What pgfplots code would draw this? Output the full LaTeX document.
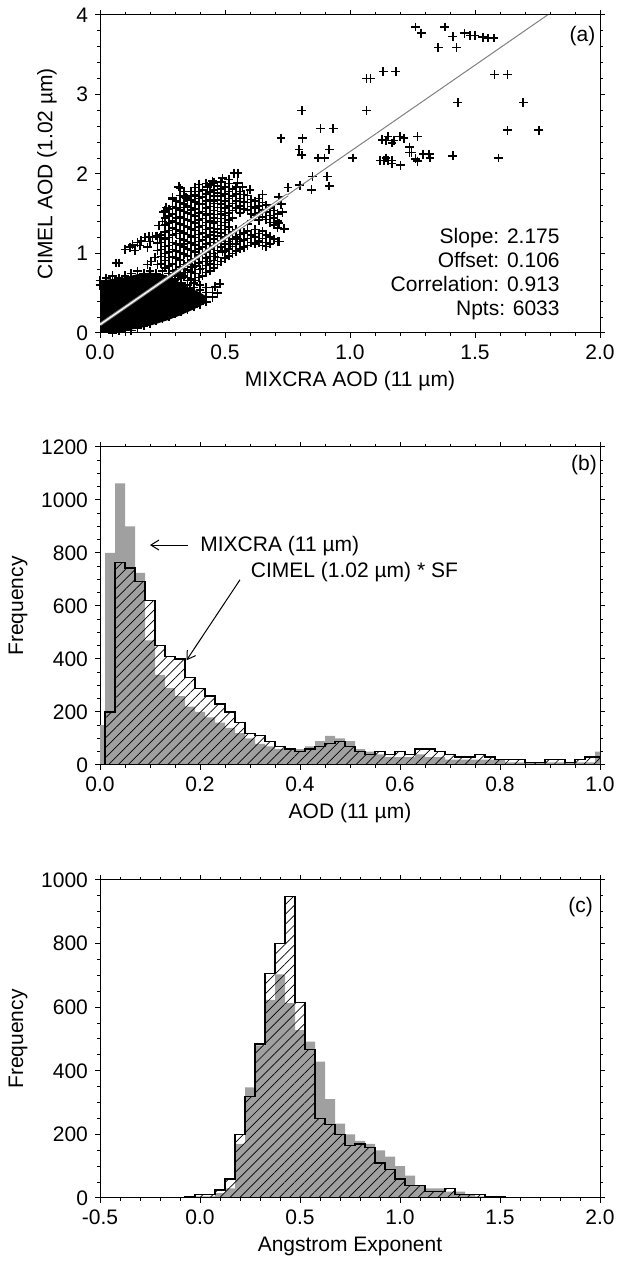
\documentclass[border=0pt]{standalone}
\usepackage{pgfplots}
\pgfplotsset{compat=1.18}
\usepackage{pgfplotstable}
\usetikzlibrary{patterns.meta,arrows.meta}
\usepackage{fontspec}
\setmainfont{Liberation Sans}
\definecolor{hgray}{RGB}{160,160,160}
\newcommand{\fs}{\fontsize{10.5}{12}\selectfont}

% panel (b): left bin edge, MIXCRA (grey), CIMEL*SF (hatched)
\pgfplotstableread{
x g c
-0.01 150 0
0.01 800 200
0.03 1063 764
0.05 900 743
0.07 725 692
0.09 470 621
0.11 340 450
0.13 290 410
0.15 260 400
0.17 220 330
0.19 200 290
0.21 180 260
0.23 160 230
0.25 140 200
0.27 120 160
0.29 100 120
0.31 80 110
0.33 70 90
0.35 60 70
0.37 60 60
0.39 60 50
0.41 70 60
0.43 90 70
0.45 110 80
0.47 100 90
0.49 90 70
0.51 60 50
0.53 50 40
0.55 40 50
0.57 30 40
0.59 30 50
0.61 30 40
0.63 40 60
0.65 30 60
0.67 30 50
0.69 20 40
0.71 20 30
0.73 20 30
0.75 20 40
0.77 20 30
0.79 20 20
0.81 10 20
0.83 10 20
0.85 10 10
0.87 10 10
0.89 10 20
0.91 10 20
0.93 10 10
0.95 10 20
0.97 10 30
0.99 50 30
1.01 50 30
}\histb

% panel (c): left bin edge, MIXCRA (grey), CIMEL (hatched)
\pgfplotstableread{
x g c
-0.075 0 5
-0.025 5 10
0.025 5 10
0.075 15 25
0.125 30 60
0.175 170 200
0.225 348 318
0.275 480 484
0.325 623 706
0.375 703 800
0.425 613 947
0.475 528 614
0.525 492 467
0.575 429 251
0.625 311 230
0.675 234 200
0.725 200 165
0.775 180 170
0.825 170 160
0.875 150 110
0.925 130 90
0.975 100 60
1.025 70 40
1.075 40 40
1.125 30 20
1.175 30 20
1.225 20 30
1.275 20 10
1.325 10 10
1.375 5 10
1.425 5 5
1.475 0 5
1.525 0 5
}\histc

\pgfplotsset{
  myaxis/.style={
    scale only axis, width=250pt, height=159pt,
    anchor=south west,
    tick align=outside,
    major tick length=2.5pt, minor tick length=1.5pt,
    axis line style={line width=0.5pt},
    every tick/.style={black, line width=0.5pt},
    tick label style={font=\fs},
    label style={font=\fs},
    /pgf/number format/assume math mode=true,
    /pgf/number format/1000 sep={},
    scaled ticks=false,
    clip mode=individual,
  },
  hatch/.style={const plot mark left, draw=black, line width=0.6pt,
    pattern={Lines[angle=45,distance=3.5pt,line width=0.35pt]}, pattern color=black},
  greybar/.style={const plot mark left, draw=none, fill=hgray},
}

\begin{document}
\begin{tikzpicture}
\useasboundingbox (0,0) rectangle (309pt,634.5pt);

% ---------------- (a) ----------------
\begin{axis}[myaxis, at={(50pt,468pt)},
  xmin=0, xmax=2, ymin=0, ymax=4,
  xtick={0,0.5,1,1.5,2}, minor x tick num=4,
  ytick={0,1,2,3,4}, minor y tick num=4,
  xticklabel style={/pgf/number format/.cd,fixed,fixed zerofill,precision=1},
  xlabel={MIXCRA AOD (11 µm)}, ylabel={CIMEL AOD (1.02 µm)},
  xlabel style={at={(axis description cs:0.5,-0.151)},anchor=center},
  ylabel style={at={(axis description cs:-0.106,0.5)},anchor=center},
]
\addplot[fill=black, draw=none] coordinates {
(0,0) (0.08,0) (0.12,0.04) (0.17,0.07) (0.22,0.11) (0.27,0.16) (0.32,0.22) (0.37,0.29)
(0.42,0.37) (0.43,0.45) (0.40,0.51) (0.35,0.58) (0.30,0.67) (0.25,0.74) (0.20,0.76)
(0.15,0.74) (0.10,0.70) (0.05,0.68) (0,0.66)} -- cycle;
\addplot[only marks, mark=+, mark size=2.2pt, mark options={line width=0.8pt}] coordinates {
(0,0.66) (0,0.60) (0.025,0.69) (0.025,0.63) (0.05,0.72) (0.05,0.66) (0.075,0.69) (0.075,0.63)
(0.1,0.72) (0.1,0.66) (0.125,0.75) (0.125,0.69) (0.15,0.78) (0.15,0.72) (0.175,0.75) (0.175,0.69)
(0.2,0.78) (0.2,0.72) (0.225,0.75) (0.225,0.69) (0.25,0.78) (0.25,0.72) (0.275,0.75) (0.275,0.69)
(0.3,0.72) (0.3,0.66) (0.325,0.69) (0.325,0.63) (0.35,0.66) (0.35,0.60) (0.375,0.63) (0.375,0.57)
(0.4,0.60) (0.4,0.54) (0.425,0.57) (0.425,0.51) (0.45,0.51) (0.45,0.45)
(0.05,0.0) (0.075,0.03) (0.1,0.06) (0.125,0.03) (0.125,0.09) (0.15,0.06) (0.15,0.12) (0.175,0.09)
(0.175,0.15) (0.2,0.12) (0.2,0.18) (0.225,0.15) (0.225,0.21) (0.25,0.18) (0.25,0.24) (0.275,0.21)
(0.275,0.27) (0.3,0.24) (0.3,0.30) (0.325,0.27) (0.325,0.33) (0.35,0.30) (0.35,0.36) (0.375,0.33)
(0.375,0.39) (0.4,0.36) (0.4,0.42) (0.425,0.39) (0.425,0.45)
(0.23,0.86) (0.23,1.04) (0.23,1.13) (0.23,1.22)
(0.26,0.82) (0.26,0.91) (0.26,1.00) (0.26,1.09) (0.26,1.18) (0.26,1.27) (0.26,1.36) (0.26,1.45) (0.26,1.54)
(0.29,0.78) (0.29,0.87) (0.29,0.96) (0.29,1.05) (0.29,1.14) (0.29,1.23) (0.29,1.32) (0.29,1.41) (0.29,1.50) (0.29,1.59) (0.29,1.68)
(0.32,0.74) (0.32,0.83) (0.32,0.92) (0.32,1.01) (0.32,1.10) (0.32,1.19) (0.32,1.28) (0.32,1.37) (0.32,1.46) (0.32,1.55) (0.32,1.64) (0.32,1.73) (0.32,1.82)
(0.35,0.70) (0.35,0.79) (0.35,0.88) (0.35,0.97) (0.35,1.06) (0.35,1.15) (0.35,1.24) (0.35,1.33) (0.35,1.42) (0.35,1.51) (0.35,1.60) (0.35,1.69)
(0.38,0.66) (0.38,0.75) (0.38,0.84) (0.38,0.93) (0.38,1.02) (0.38,1.11) (0.38,1.20) (0.38,1.29) (0.38,1.38) (0.38,1.47) (0.38,1.56) (0.38,1.65) (0.38,1.74) (0.38,1.83)
(0.41,0.72) (0.41,0.81) (0.41,0.90) (0.41,0.99) (0.41,1.08) (0.41,1.17) (0.41,1.26) (0.41,1.35) (0.41,1.44) (0.41,1.53) (0.41,1.62) (0.41,1.71) (0.41,1.80)
(0.44,0.78) (0.44,0.87) (0.44,0.96) (0.44,1.05) (0.44,1.14) (0.44,1.23) (0.44,1.32) (0.44,1.41) (0.44,1.50) (0.44,1.59) (0.44,1.68) (0.44,1.77) (0.44,1.86)
(0.47,0.86) (0.47,0.95) (0.47,1.04) (0.47,1.13) (0.47,1.22) (0.47,1.31) (0.47,1.40) (0.47,1.49) (0.47,1.58) (0.47,1.67) (0.47,1.76) (0.47,1.85)
(0.50,0.94) (0.50,1.03) (0.50,1.12) (0.50,1.21) (0.50,1.30) (0.50,1.39) (0.50,1.48) (0.50,1.57) (0.50,1.66) (0.50,1.75) (0.50,1.84)
(0.53,1.00) (0.53,1.09) (0.53,1.18) (0.53,1.27) (0.53,1.45) (0.53,1.54) (0.53,1.63) (0.53,1.72) (0.53,1.81)
(0.56,1.06) (0.56,1.15) (0.56,1.24) (0.56,1.51) (0.56,1.60) (0.56,1.69) (0.56,1.78)
(0.59,1.10) (0.59,1.19) (0.59,1.28) (0.59,1.37) (0.59,1.55) (0.59,1.64) (0.59,1.73)
(0.62,1.12) (0.62,1.21) (0.62,1.30) (0.62,1.48) (0.62,1.57) (0.62,1.66)
(0.65,1.10) (0.65,1.19) (0.65,1.28) (0.65,1.46) (0.65,1.55) (0.65,1.64)
(0.68,1.12) (0.68,1.21) (0.68,1.39) (0.68,1.48) (0.68,1.57)
(0.71,1.15) (0.71,1.32) (0.71,1.41) (0.71,1.50)
(0.245,0.87) (0.245,0.96) (0.245,1.05) (0.245,1.14) (0.245,1.23)
(0.275,0.84) (0.275,1.02) (0.275,1.20) (0.275,1.29) (0.275,1.38) (0.275,1.47) (0.275,1.56)
(0.305,0.76) (0.305,0.94) (0.305,1.03) (0.305,1.12) (0.305,1.30) (0.305,1.39) (0.305,1.57) (0.305,1.66)
(0.335,0.72) (0.335,0.81) (0.335,0.99) (0.335,1.08) (0.335,1.17) (0.335,1.26) (0.335,1.44) (0.335,1.53) (0.335,1.62) (0.335,1.71) (0.335,1.78)
(0.365,0.68) (0.365,0.77) (0.365,0.86) (0.365,1.04) (0.365,1.13) (0.365,1.22) (0.365,1.31) (0.365,1.40) (0.365,1.49) (0.365,1.58) (0.365,1.67) (0.365,1.78)
(0.395,0.70) (0.395,0.88) (0.395,1.06) (0.395,1.24) (0.395,1.33) (0.395,1.51) (0.395,1.69) (0.395,1.87)
(0.425,0.76) (0.425,0.85) (0.425,0.94) (0.425,1.12) (0.425,1.21) (0.425,1.39) (0.425,1.48) (0.425,1.57) (0.425,1.66) (0.425,1.75)
(0.455,0.82) (0.455,0.91) (0.455,1.00) (0.455,1.18) (0.455,1.27) (0.455,1.45) (0.455,1.54) (0.455,1.63) (0.455,1.72) (0.455,1.89)
(0.485,0.90) (0.485,1.08) (0.485,1.26) (0.485,1.35) (0.485,1.44) (0.485,1.53) (0.485,1.62) (0.485,1.81)
(0.515,0.97) (0.515,1.06) (0.515,1.15) (0.515,1.33) (0.515,1.51) (0.515,1.69) (0.515,1.78) (0.515,1.93)
(0.545,1.03) (0.545,1.12) (0.545,1.21) (0.545,1.57) (0.545,1.66) (0.545,1.84)
(0.575,1.08) (0.575,1.17) (0.575,1.26) (0.575,1.56) (0.575,1.65) (0.575,1.74)
(0.605,1.14) (0.605,1.23) (0.605,1.50) (0.605,1.59) (0.605,1.68)
(0.635,1.16) (0.635,1.25) (0.635,1.42) (0.635,1.51) (0.635,1.60) (0.635,1.69)
(0.665,1.14) (0.665,1.23) (0.665,1.43) (0.665,1.52) (0.665,1.61)
(0.695,1.18) (0.695,1.36) (0.695,1.45) (0.695,1.54)
(0.305,0.80) (0.335,0.86) (0.365,0.92) (0.395,0.98) (0.425,1.02) (0.455,1.10) (0.485,1.16) (0.515,1.24) (0.545,1.30)
(0.31,0.68) (0.34,0.76) (0.37,0.83) (0.40,0.80) (0.43,0.90) (0.46,0.96) (0.49,1.02) (0.52,1.12) (0.55,1.18)
(0.365,1.55) (0.395,1.62) (0.425,1.50) (0.455,1.66) (0.485,1.72) (0.515,1.60) (0.545,1.75) (0.395,1.78)
(0.425,1.88) (0.455,1.80) (0.485,1.90) (0.515,1.88) (0.365,1.72) (0.335,1.58) (0.305,1.45) (0.395,1.42)
(0.425,1.30) (0.455,1.38) (0.485,1.50) (0.515,1.42) (0.365,1.20) (0.335,1.12) (0.395,1.15) (0.335,1.35)
(0.305,1.25) (0.275,1.10) (0.275,0.95)
(0.065,0.88) (0.075,0.88) (0.10,1.05) (0.12,1.08) (0.13,1.11) (0.15,1.14) (0.165,1.16) (0.18,1.20)
(0.195,1.21) (0.21,1.21) (0.225,1.22) (0.24,1.20) (0.14,1.04) (0.16,1.10) (0.19,1.08) (0.20,1.15)
(0.205,0.90) (0.22,0.95) (0.19,0.86) (0.235,1.35) (0.25,1.40) (0.255,1.52) (0.265,1.58) (0.29,1.70)
(0.315,1.84) (0.345,1.70) (0.38,1.72) (0.43,1.84) (0.45,1.91) (0.49,1.95) (0.537,2.01) (0.551,2.01)
(0.55,1.89) (0.57,1.84) (0.60,1.80) (0.65,1.74) (0.715,1.71) (0.725,1.62) (0.73,1.52) (0.737,1.31)
(0.715,1.38) (0.717,1.15) (0.664,1.09) (0.637,1.14) (0.33,0.55) (0.36,0.55) (0.35,0.45) (0.29,0.37)
(0.47,0.50) (0.46,0.58) (0.48,0.62) (0.30,0.62)
(1.262,3.85) (1.285,3.77) (1.379,3.85) (1.353,3.59) (1.411,3.73) (1.426,3.59) (1.458,3.77) (1.481,3.74)
(1.50,3.74) (1.531,3.72) (1.552,3.71) (1.575,3.71) (1.066,3.20) (1.082,3.20) (1.133,3.29) (1.183,3.29)
(1.066,2.80) (1.578,3.25) (1.630,3.25) (1.431,2.90) (1.693,2.90) (1.630,2.55) (1.755,2.55) (1.594,2.20)
(1.411,2.23) (0.807,2.80) (0.724,2.45) (0.810,2.45) (0.882,2.57) (0.933,2.57) (0.796,2.31) (0.807,2.24)
(0.873,2.20) (0.898,2.20) (0.917,2.31) (1.011,2.20) (0.752,1.83) (0.799,1.86) (0.846,1.80) (0.85,1.97)
(0.909,1.97) (0.917,1.85) (1.129,2.43) (1.152,2.47) (1.168,2.39) (1.199,2.47) (1.215,2.45) (1.27,2.47)
(1.144,2.42) (1.176,2.42) (1.121,2.17) (1.136,2.17) (1.152,2.17) (1.168,2.17) (1.144,2.20) (1.168,2.13)
(1.202,2.11) (1.238,2.34) (1.246,2.27) (1.262,2.19) (1.27,2.16) (1.293,2.25) (1.317,2.25) (1.320,2.20)
(1.238,2.27)
};
\addplot[gray, line width=0.5pt] coordinates {(0,0.106) (1.79,4.0)};
\addplot[gray, line width=1.6pt] coordinates {(0,0.106) (0.75,1.737)};
\addplot[white, line width=0.6pt] coordinates {(0,0.106) (0.75,1.737)};
\node[anchor=east, align=right, font=\fs, inner sep=0pt] at (axis cs:1.84,0.735)
  {Slope: 2.175\\Offset: 0.106\\Correlation: 0.913\\Npts: 6033};
\node[font=\fs] at (axis cs:1.93,3.73) {(a)};
\end{axis}

% ---------------- (b) ----------------
\begin{axis}[myaxis, at={(50pt,252pt)},
  xmin=0, xmax=1, ymin=0, ymax=1200,
  xtick={0,0.2,0.4,0.6,0.8,1.0}, minor x tick num=3,
  ytick={0,200,400,600,800,1000,1200}, minor y tick num=3,
  xticklabel style={/pgf/number format/.cd,fixed,fixed zerofill,precision=1},
  xlabel={AOD (11 µm)}, ylabel={Frequency},
  xlabel style={at={(axis description cs:0.5,-0.151)},anchor=center},
  ylabel style={at={(axis description cs:-0.164,0.5)},anchor=center},
]
\addplot[greybar] table[x=x,y=g]{\histb} \closedcycle;
\addplot[hatch] table[x=x,y=c]{\histb} \closedcycle;
\draw[line width=0.5pt, -{Straight Barb[length=4pt,width=5pt]}] (axis cs:0.176,830) -- (axis cs:0.100,830);
\node[anchor=west, font=\fs, inner sep=0pt] at (axis cs:0.2,828) {MIXCRA (11 µm)};
\draw[line width=0.5pt, -{Straight Barb[length=4pt,width=5pt]}] (axis cs:0.280,699) -- (axis cs:0.173,395);
\node[anchor=west, font=\fs, inner sep=0pt] at (axis cs:0.301,728) {CIMEL (1.02 µm) * SF};
\node[font=\fs] at (axis cs:0.968,1132) {(b)};
\end{axis}

% ---------------- (c) ----------------
\begin{axis}[myaxis, at={(50pt,35.5pt)},
  xmin=-0.5, xmax=2, ymin=0, ymax=1000,
  xtick={-0.5,0,0.5,1,1.5,2}, minor x tick num=4,
  ytick={0,200,400,600,800,1000}, minor y tick num=3,
  xticklabel style={/pgf/number format/.cd,fixed,fixed zerofill,precision=1},
  xlabel={Angstrom Exponent}, ylabel={Frequency},
  xlabel style={at={(axis description cs:0.5,-0.151)},anchor=center},
  ylabel style={at={(axis description cs:-0.164,0.5)},anchor=center},
]
\addplot[greybar] table[x=x,y=g]{\histc} \closedcycle;
\addplot[hatch] table[x=x,y=c]{\histc} \closedcycle;
\node[font=\fs] at (axis cs:1.903,916) {(c)};
\end{axis}
\end{tikzpicture}
\end{document}
